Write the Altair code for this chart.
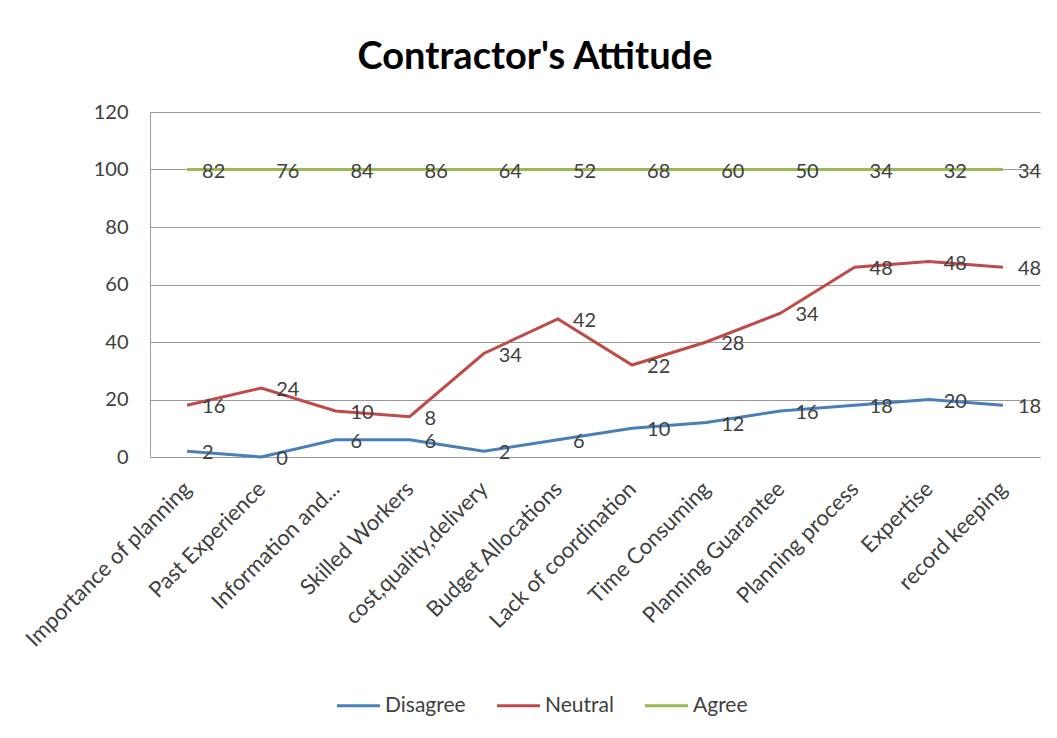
import altair as alt
import pandas as pd

categories = ["Importance of planning", "Past Experience", "Information and...",
              "Skilled Workers", "cost,quality,delivery", "Budget Allocations",
              "Lack of coordination", "Time Consuming", "Planning Guarantee",
              "Planning process", "Expertise", "record keeping"]
disagree = [2, 0, 6, 6, 2, 6, 10, 12, 16, 18, 20, 18]
neutral = [16, 24, 10, 8, 34, 42, 22, 28, 34, 48, 48, 48]
agree = [82, 76, 84, 86, 64, 52, 68, 60, 50, 34, 32, 34]

series_names = ["Disagree", "Neutral", "Agree"]
series_colors = ["#4A7EBB", "#BE4B48", "#98B954"]

rows = []
for i, c in enumerate(categories):
    cum = 0
    for name, vals in zip(series_names, [disagree, neutral, agree]):
        cum += vals[i]
        rows.append({"category": c, "series": name, "value": vals[i], "stacked": cum})
df = pd.DataFrame(rows)

x_enc = alt.X("category:N", sort=categories, title=None,
              scale=alt.Scale(paddingInner=0, paddingOuter=0),
              axis=alt.Axis(labelAngle=-45, labelAlign="right", labelBaseline="middle",
                            labelPadding=28, labelFontSize=22, labelColor="#404040",
                            labelFont="Lato", ticks=False, domainColor="#9a9a9a",
                            labelLimit=400, grid=False))
y_enc = alt.Y("stacked:Q", title=None,
              scale=alt.Scale(domain=[0, 120], nice=False),
              axis=alt.Axis(values=[0, 20, 40, 60, 80, 100, 120], labelFontSize=20,
                            labelColor="#404040", labelFont="Lato", labelPadding=22,
                            ticks=False, domainColor="#9a9a9a", gridColor="#9a9a9a",
                            grid=True))
color_enc = alt.Color("series:N", sort=series_names,
                      scale=alt.Scale(domain=series_names, range=series_colors),
                      legend=alt.Legend(title=None, orient="none", direction="horizontal",
                                        legendX=185, legendY=570, symbolType="stroke",
                                        symbolStrokeWidth=3, symbolSize=1850,
                                        labelFontSize=21, labelColor="#404040",
                                        labelFont="Lato", columnPadding=24,
                                        labelOffset=3))

base = alt.Chart(df)
lines = base.mark_line(strokeWidth=3).encode(
    x=x_enc, y=y_enc, color=color_enc,
    detail="series:N")
labels = base.mark_text(align="left", baseline="middle", dx=15, dy=2,
                        fontSize=20, font="Lato", color="#404040").encode(
    x=alt.X("category:N", sort=categories),
    y="stacked:Q",
    text="value:Q")

chart = alt.layer(lines, labels).properties(
    width=890, height=345,
    title=alt.Title("Contractor's Attitude", fontSize=38, font="Lato", fontWeight="bold",
                    color="#000000", anchor="middle", dx=-60, offset=25),
    autosize=alt.AutoSizeParams(type="none"),
    padding={"left": 142, "top": 104, "right": 9, "bottom": 273},
).configure_view(stroke=None)

chart.save("out.html", embed_options={"renderer": "svg", "actions": False})
